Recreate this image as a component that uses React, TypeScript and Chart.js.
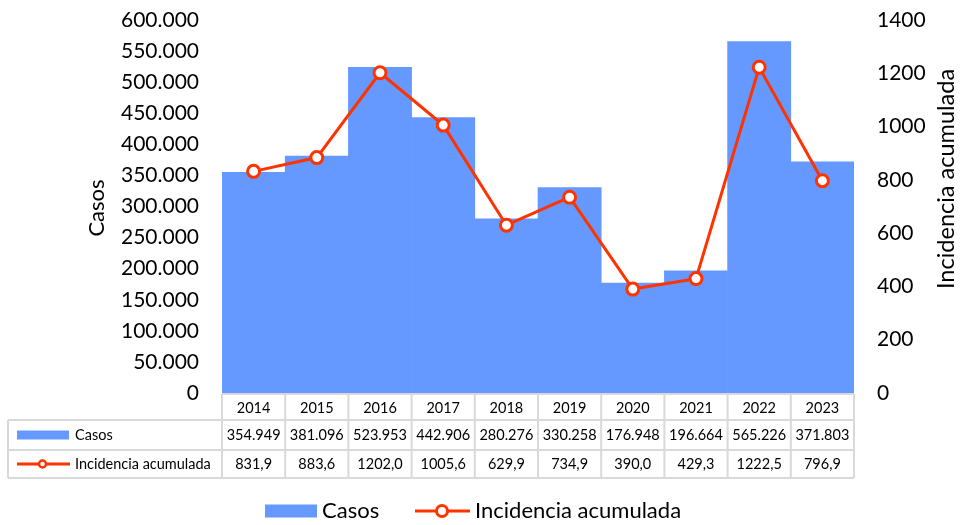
import React, { useEffect, useRef } from "react";
import { Chart, registerables } from "chart.js";

Chart.register(...registerables);

const years = ["2014", "2015", "2016", "2017", "2018", "2019", "2020", "2021", "2022", "2023"];
const casos = [354949, 381096, 523953, 442906, 280276, 330258, 176948, 196664, 565226, 371803];
const incidencia = [831.9, 883.6, 1202.0, 1005.6, 629.9, 734.9, 390.0, 429.3, 1222.5, 796.9];
const casosLabel = "Casos";
const incLabel = "Incidencia acumulada";

const BAR = "#6699FF";
const LINE = "#FF3300";
const FONT = "Lato, 'Open Sans', sans-serif";

const fmtThousands = (v: number) => String(Math.round(v)).replace(/\B(?=(\d{3})+(?!\d))/g, ".");
const fmtDec = (v: number) => v.toFixed(1).replace(".", ",");

const tablePlugin = {
  id: "tablePlugin",
  afterDraw(chart: any) {
    const ctx = chart.ctx as CanvasRenderingContext2D;
    const ca = chart.chartArea;
    const xs = chart.scales.x;
    const n = years.length;
    const colW = (ca.right - ca.left) / n;
    const rowTop = ca.bottom + 1;
    const r1 = rowTop + 26;
    const r2 = r1 + 30;
    const r3 = r2 + 28;
    const tableLeft = 8;
    ctx.save();
    // borders
    ctx.strokeStyle = "#d9d9d9";
    ctx.lineWidth = 2;
    ctx.beginPath();
    ctx.moveTo(ca.left, rowTop);
    ctx.lineTo(ca.right, rowTop);
    ctx.moveTo(tableLeft, r1);
    ctx.lineTo(ca.right, r1);
    ctx.moveTo(tableLeft, r2);
    ctx.lineTo(ca.right, r2);
    ctx.moveTo(tableLeft, r3);
    ctx.lineTo(ca.right, r3);
    ctx.moveTo(tableLeft, r1);
    ctx.lineTo(tableLeft, r3);
    for (let i = 0; i <= n; i++) {
      const x = ca.left + i * colW;
      ctx.moveTo(x, rowTop);
      ctx.lineTo(x, r3);
    }
    ctx.stroke();

    // text
    ctx.fillStyle = "#000";
    ctx.font = `14.5px ${FONT}`;
    ctx.textAlign = "center";
    ctx.textBaseline = "middle";
    for (let i = 0; i < n; i++) {
      const cx = xs.getPixelForValue(i);
      ctx.fillText(years[i], cx, (rowTop + r1) / 2 + 1);
      ctx.fillText(fmtThousands(casos[i]), cx, (r1 + r2) / 2);
      ctx.fillText(fmtDec(incidencia[i]), cx, (r2 + r3) / 2);
    }
    // row labels
    ctx.textAlign = "left";
    const c2 = (r1 + r2) / 2;
    const c3 = (r2 + r3) / 2;
    ctx.fillStyle = BAR;
    ctx.fillRect(17, c2 - 4.5, 52, 9);
    ctx.fillStyle = "#000";
    ctx.fillText(casosLabel, 75, c2);
    ctx.strokeStyle = LINE;
    ctx.lineWidth = 3;
    ctx.beginPath();
    ctx.moveTo(17, c3);
    ctx.lineTo(70, c3);
    ctx.stroke();
    ctx.beginPath();
    ctx.arc(42.5, c3, 3.5, 0, Math.PI * 2);
    ctx.fillStyle = "#fff";
    ctx.fill();
    ctx.lineWidth = 2.5;
    ctx.stroke();
    ctx.fillStyle = "#000";
    ctx.fillText(incLabel, 75, c3);

    // axis titles
    ctx.font = `22px ${FONT}`;
    ctx.textAlign = "center";
    ctx.textBaseline = "middle";
    ctx.save();
    ctx.translate(97, 208);
    ctx.rotate(-Math.PI / 2);
    ctx.fillText(casosLabel, 0, 0);
    ctx.restore();
    ctx.font = `23.5px ${FONT}`;
    ctx.save();
    ctx.translate(946, 179);
    ctx.rotate(-Math.PI / 2);
    ctx.fillText(incLabel, 0, 0);
    ctx.restore();

    // legend
    const ly = 511;
    ctx.font = `22px ${FONT}`;
    ctx.textAlign = "left";
    ctx.fillStyle = BAR;
    ctx.fillRect(265, ly - 6.5, 52, 13);
    ctx.fillStyle = "#000";
    ctx.fillText(casosLabel, 322, ly);
    ctx.strokeStyle = LINE;
    ctx.lineWidth = 3;
    ctx.beginPath();
    ctx.moveTo(415, ly);
    ctx.lineTo(470, ly);
    ctx.stroke();
    ctx.beginPath();
    ctx.arc(442, ly, 5.5, 0, Math.PI * 2);
    ctx.fillStyle = "#fff";
    ctx.fill();
    ctx.lineWidth = 3;
    ctx.stroke();
    ctx.fillStyle = "#000";
    ctx.fillText(incLabel, 475, ly);
    ctx.restore();
  },
};

export default function App() {
  const ref = useRef<HTMLCanvasElement | null>(null);
  useEffect(() => {
    if (!ref.current) return;
    const chart = new Chart(ref.current, {
      type: "bar",
      data: {
        labels: years,
        datasets: [
          {
            type: "line",
            label: incLabel,
            data: incidencia,
            yAxisID: "y1",
            borderColor: LINE,
            borderWidth: 3,
            pointRadius: 6,
            pointBorderWidth: 3,
            pointBackgroundColor: "#fff",
            pointBorderColor: LINE,
            tension: 0,
            order: 0,
          } as any,
          {
            type: "bar",
            label: casosLabel,
            data: casos,
            yAxisID: "y",
            backgroundColor: BAR,
            borderWidth: 0,
            barPercentage: 1,
            categoryPercentage: 1,
            order: 1,
          },
        ],
      },
      options: {
        responsive: false,
        animation: false,
        layout: { padding: { top: 20, bottom: 132, left: 0, right: 0 } },
        plugins: { legend: { display: false }, tooltip: { enabled: false } },
        scales: {
          x: { display: false, offset: true },
          y: {
            position: "left",
            min: 0,
            max: 600000,
            grid: { display: false, drawTicks: false },
            border: { display: false },
            ticks: {
              stepSize: 50000,
              padding: 23,
              color: "#000",
              font: { family: FONT, size: 21 },
              callback: (v: any) => fmtThousands(Number(v)),
            },
            afterFit: (s: any) => {
              s.width = 222;
              s.paddingTop = 0;
              s.paddingBottom = 0;
            },
          },
          y1: {
            position: "right",
            min: 0,
            max: 1400,
            grid: { display: false, drawTicks: false },
            border: { display: false },
            ticks: {
              stepSize: 200,
              padding: 23,
              color: "#000",
              font: { family: FONT, size: 21 },
              callback: (v: any) => String(v),
            },
            afterFit: (s: any) => {
              s.width = 106;
              s.paddingTop = 0;
              s.paddingBottom = 0;
            },
          },
        },
      } as any,
      plugins: [tablePlugin],
    });
    return () => chart.destroy();
  }, []);
  return (
    <div style={{ position: "fixed", left: 0, top: 0, width: 960, height: 525, background: "#fff" }}>
      <canvas ref={ref} width={960} height={525} />
    </div>
  );
}
